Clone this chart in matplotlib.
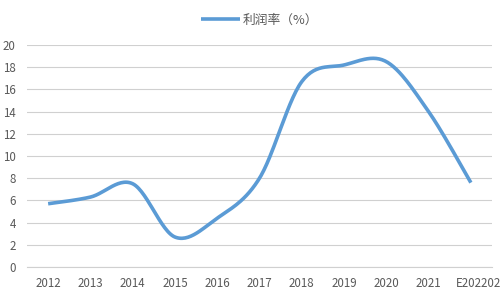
import numpy as np
import matplotlib
matplotlib.use("Agg")
import matplotlib.pyplot as plt
import matplotlib.transforms as mtransforms

plt.rcParams['font.family'] = ['Noto Sans CJK SC', 'DejaVu Sans']

years = ['2012', '2013', '2014', '2015', '2016', '2017', '2018', '2019', '2020', '2021', 'E202202']
margin = [5.7, 6.3, 7.5, 2.7, 4.4, 8.0, 16.7, 18.2, 18.5, 14.0, 7.6]
series_name = '利润率（%）'

# excel-style smoothed line (catmull-rom through the points)
def smooth(xs, ys, n=30):
    px = np.concatenate([[xs[0]], xs, [xs[-1]]])
    py = np.concatenate([[ys[0]], ys, [ys[-1]]])
    ox, oy = [], []
    for i in range(1, len(px) - 2):
        t = np.linspace(0, 1, n)
        for p, out in ((px, ox), (py, oy)):
            p0, p1, p2, p3 = p[i - 1], p[i], p[i + 1], p[i + 2]
            m1 = (p2 - p0) / 2
            m2 = (p3 - p1) / 2
            h00 = 2 * t**3 - 3 * t**2 + 1
            h10 = t**3 - 2 * t**2 + t
            h01 = -2 * t**3 + 3 * t**2
            h11 = t**3 - t**2
            out.extend(h00 * p1 + h10 * m1 + h01 * p2 + h11 * m2)
    return np.array(ox), np.array(oy)

x = np.arange(len(years), dtype=float)
sx, sy = smooth(x, np.array(margin))

fig = plt.figure(figsize=(5, 3), dpi=100)
ax = fig.add_axes([0.054, 0.11, 0.93, 0.74])
ax.plot(sx, sy, color='#5B9BD5', lw=2.6, solid_capstyle='butt', label=series_name)

ax.set_xlim(-0.5, len(years) - 0.5)
ax.set_ylim(0, 20)
ax.set_yticks(range(0, 21, 2))
ax.set_xticks(x)
ax.set_xticklabels(years)
ax.grid(axis='y', color='#d0d0d0', lw=0.8)
ax.set_axisbelow(True)
for s in ['top', 'right', 'left']:
    ax.spines[s].set_visible(False)
ax.spines['bottom'].set_color('#d0d0d0')
ax.tick_params(length=0, labelsize=8.3, labelcolor='#595959')
ax.tick_params(axis='y', pad=8)
ax.tick_params(axis='x', pad=7)

last = ax.get_xticklabels()[-1]
last.set_horizontalalignment('left')
last.set_transform(last.get_transform() + mtransforms.ScaledTranslation(-0.15, 0, fig.dpi_scale_trans))

ax.legend(loc='lower center', bbox_to_anchor=(0.5, 1.03), frameon=False,
          fontsize=9.2, labelcolor='#595959', handlelength=3.0, handletextpad=0.2)

fig.savefig('out.png', dpi=100)
